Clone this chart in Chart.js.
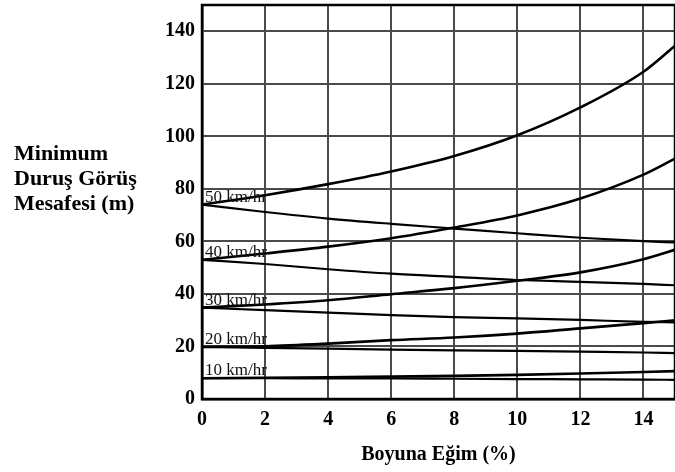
<!DOCTYPE html>
<html>
<head>
<meta charset="utf-8">
<script src="https://cdn.jsdelivr.net/npm/chart.js@4"></script>
<style>
  html, body { margin: 0; padding: 0; background: #fff; }
  #wrap { width: 675px; height: 472px; }
</style>
</head>
<body>
<div id="wrap"><canvas id="sightChart"></canvas></div>
<script>
// boyuna egim (%) ve hiz egrileri
const grade = [0, 2, 4, 6, 8, 10, 12, 14, 15];
const speedLabels = ['50 km/hr', '40 km/hr', '30 km/hr', '20 km/hr', '10 km/hr'];

// asagi egim (artan) ve yukari egim (azalan) mesafeler, m
const v50Down = [74, 77.6, 81.8, 86.6, 92.5, 100.4, 111, 124.6, 134.5];
const v50Up = [74, 71.2, 68.7, 66.7, 64.9, 63.1, 61.4, 60.1, 59.6];
const v40Down = [53, 55.4, 58, 61.2, 65.3, 69.9, 76.3, 85.4, 91.5];
const v40Up = [53, 51.4, 49.4, 47.7, 46.5, 45.3, 44.6, 43.8, 43.3];
const v30Down = [34.8, 36, 37.6, 39.9, 42.2, 45, 48.2, 53.2, 56.8];
const v30Up = [34.8, 33.8, 32.9, 31.9, 31.2, 30.7, 30.1, 29.4, 29.2];
const v20Down = [19.8, 20.1, 21.1, 22.4, 23.4, 24.9, 26.9, 28.9, 30];
const v20Up = [19.8, 19.5, 19.2, 18.8, 18.5, 18.3, 18, 17.7, 17.5];
const v10Down = [7.9, 8.1, 8.3, 8.5, 8.8, 9.2, 9.7, 10.3, 10.6];
const v10Up = [7.9, 7.9, 7.8, 7.8, 7.7, 7.6, 7.5, 7.4, 7.3];

const yTitleLines = ['Minimum', 'Duruş Görüş', 'Mesafesi (m)'];
const xTitle = 'Boyuna Eğim (%)';

const downSeries = [v50Down, v40Down, v30Down, v20Down, v10Down];
const upSeries = [v50Up, v40Up, v30Up, v20Up, v10Up];

function toPoints(arr) {
    return arr.map((v, i) => ({ x: grade[i], y: v }));
}

const datasets = [];
speedLabels.forEach((lbl, i) => {
    datasets.push({ label: lbl + ' down', data: toPoints(downSeries[i]), borderWidth: 2.6 });
    datasets.push({ label: lbl + ' up', data: toPoints(upSeries[i]), borderWidth: 2.2 });
});

const serif = '"Liberation Serif", "DejaVu Serif", serif';

const frameAndText = {
    id: 'frameAndText',
    afterDatasetsDraw(chart) {
        const { ctx, chartArea, scales } = chart;
        ctx.save();
        // speed labels at the start of each pair
        ctx.font = '17px ' + serif;
        ctx.fillStyle = '#111';
        ctx.textAlign = 'left';
        ctx.textBaseline = 'alphabetic';
        speedLabels.forEach((lbl, i) => {
            const y = scales.y.getPixelForValue(downSeries[i][0]) - 3;
            ctx.fillText(lbl, chartArea.left + 3, y);
        });
        // frame
        ctx.strokeStyle = '#000';
        ctx.lineWidth = 2.5;
        ctx.strokeRect(chartArea.left, chartArea.top, chartArea.right - chartArea.left, chartArea.bottom - chartArea.top);
        // left title
        ctx.font = 'bold 22px ' + serif;
        ctx.fillStyle = '#000';
        yTitleLines.forEach((t, i) => {
            ctx.fillText(t, 14, 160 + i * 25);
        });
        ctx.restore();
    }
};

new Chart(document.getElementById('sightChart'), {
    type: 'line',
    data: { datasets: datasets },
    options: {
        responsive: true,
        maintainAspectRatio: false,
        animation: false,
        layout: { padding: { top: 5, right: 0, left: 0, bottom: 0 } },
        elements: {
            line: { borderColor: '#000', tension: 0.4, cubicInterpolationMode: 'monotone' },
            point: { radius: 0 }
        },
        plugins: {
            legend: { display: false },
            tooltip: { enabled: false }
        },
        scales: {
            x: {
                type: 'linear',
                min: 0,
                max: 15,
                afterFit: s => { s.height = 73; s.paddingLeft = 0; s.paddingRight = 0; },
                ticks: {
                    stepSize: 2,
                    includeBounds: false,
                    padding: 9,
                    color: '#000',
                    font: { family: serif, size: 20, weight: 'bold' }
                },
                grid: { color: '#4a4a4a', lineWidth: 2, drawTicks: false },
                border: { color: '#000', width: 2.5 },
                title: {
                    display: true,
                    text: xTitle,
                    color: '#000',
                    font: { family: serif, size: 20, weight: 'bold' },
                    padding: { top: 0, bottom: 5 }
                }
            },
            y: {
                min: 0,
                max: 150,
                afterFit: s => { s.width = 202; s.paddingTop = 0; s.paddingBottom = 0; },
                ticks: {
                    stepSize: 20,
                    includeBounds: false,
                    padding: 7,
                    color: '#000',
                    font: { family: serif, size: 20, weight: 'bold' }
                },
                grid: { color: '#4a4a4a', lineWidth: 2, drawTicks: false },
                border: { color: '#000', width: 2.5 }
            }
        }
    },
    plugins: [frameAndText]
});
</script>
</body>
</html>
